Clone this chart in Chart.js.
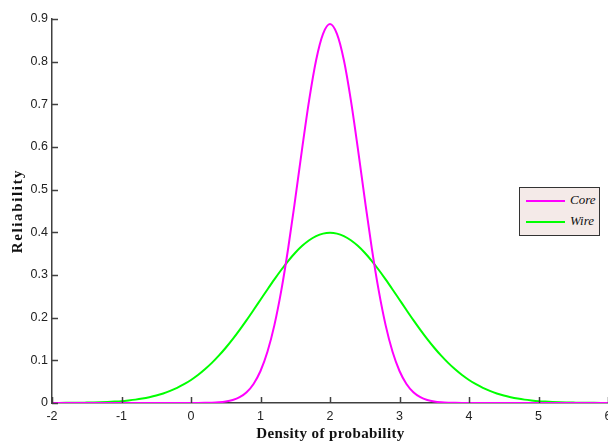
<!DOCTYPE html>
<html>
<head>
<meta charset="utf-8">
<script src="https://cdn.jsdelivr.net/npm/chart.js@4/dist/chart.umd.min.js"></script>
<style>
  html, body { margin: 0; padding: 0; background: #ffffff; overflow: hidden; }
  #wrap { position: relative; width: 608px; height: 442px; }
  #legend { position: absolute; left: 519px; top: 187px; width: 79px; height: 47px;
            background: #f4eae8; border: 1px solid #333; }
  .item { position: absolute; left: 6px; height: 16px; }
  .swatch { position: absolute; left: 0; top: 7px; width: 39px; height: 2px; }
  .lbl { position: absolute; left: 44px; top: -1px; font: italic 13px 'Liberation Serif', serif; color: #111; }
</style>
</head>
<body>
<div id="wrap">
  <canvas id="c" width="608" height="442"></canvas>
  <div id="legend">
    <div class="item" style="top:5px"><div class="swatch" style="background:#ff00ff"></div><div class="lbl">Core</div></div>
    <div class="item" style="top:26px"><div class="swatch" style="background:#00ff00"></div><div class="lbl">Wire</div></div>
  </div>
</div>
<script>
const xValues = [-2,-1.9,-1.8,-1.7,-1.6,-1.5,-1.4,-1.3,-1.2,-1.1,-1,-0.9,-0.8,-0.7,-0.6,-0.5,-0.4,-0.3,-0.2,-0.1,
  0,0.1,0.2,0.3,0.4,0.5,0.6,0.7,0.8,0.9,1,1.1,1.2,1.3,1.4,1.5,1.6,1.7,1.8,1.9,
  2,2.1,2.2,2.3,2.4,2.5,2.6,2.7,2.8,2.9,3,3.1,3.2,3.3,3.4,3.5,3.6,3.7,3.8,3.9,
  4,4.1,4.2,4.3,4.4,4.5,4.6,4.7,4.8,4.9,5,5.1,5.2,5.3,5.4,5.5,5.6,5.7,5.8,5.9,6];

const coreValues = [0,0,0,0,0,0,0,0,0,0,0,0,0,0,0,0,0,0,0,0,
  0,0.0001,0.0003,0.0007,0.0016,0.0034,0.0070,0.0137,0.0253,0.0447,0.0750,0.1200,0.1825,0.2644,0.3644,0.4782,0.5972,0.7098,0.8032,0.8649,
  0.8880,0.8649,0.8032,0.7098,0.5972,0.4782,0.3644,0.2644,0.1825,0.1200,0.0750,0.0447,0.0253,0.0137,0.0070,0.0034,0.0016,0.0007,0.0003,0.0001,
  0,0,0,0,0,0,0,0,0,0,0,0,0,0,0,0,0,0,0,0,0];

const wireValues = [0.0001,0.0002,0.0003,0.0004,0.0006,0.0009,0.0012,0.0017,0.0024,0.0033,0.0044,0.0060,0.0079,0.0104,0.0136,0.0175,0.0224,0.0283,0.0355,0.0440,
  0.0540,0.0656,0.0790,0.0940,0.1109,0.1295,0.1497,0.1714,0.1942,0.2179,0.2420,0.2661,0.2897,0.3123,0.3332,0.3521,0.3683,0.3814,0.3910,0.3970,
  0.3989,0.3970,0.3910,0.3814,0.3683,0.3521,0.3332,0.3123,0.2897,0.2661,0.2420,0.2179,0.1942,0.1714,0.1497,0.1295,0.1109,0.0940,0.0790,0.0656,
  0.0540,0.0440,0.0355,0.0283,0.0224,0.0175,0.0136,0.0104,0.0079,0.0060,0.0044,0.0033,0.0024,0.0017,0.0012,0.0009,0.0006,0.0004,0.0003,0.0002,0.0001];

const seriesNames = ['Core', 'Wire'];
const xTitle = 'Density of probability';
const yTitle = 'Reliability';

const tickFont = { family: "'Liberation Sans', Arial, sans-serif", size: 12.5 };
const titleFontCss = "bold 15px 'Liberation Serif', 'Times New Roman', serif";

const toPoints = vals => xValues.map((x, i) => ({ x: x, y: vals[i] }));

const innerTicks = {
  id: 'innerTicks',
  afterDatasetsDraw(chart) {
    const ctx = chart.ctx;
    const xs = chart.scales.x, ys = chart.scales.y;
    ctx.save();
    ctx.strokeStyle = '#404040';
    ctx.lineWidth = 1.5;
    ctx.beginPath();
    xs.ticks.forEach(t => {
      const px = Math.round(xs.getPixelForValue(t.value)) + 0.5;
      ctx.moveTo(px, ys.bottom);
      ctx.lineTo(px, ys.bottom - 6);
    });
    ys.ticks.forEach(t => {
      const py = Math.round(ys.getPixelForValue(t.value)) + 0.5;
      ctx.moveTo(xs.left, py);
      ctx.lineTo(xs.left + 6, py);
    });
    ctx.stroke();
    ctx.restore();
  }
};

const axisTitles = {
  id: 'axisTitles',
  afterDraw(chart) {
    const ctx = chart.ctx;
    const area = chart.chartArea;
    ctx.save();
    ctx.fillStyle = '#111';
    ctx.font = titleFontCss;
    ctx.textAlign = 'center';
    ctx.textBaseline = 'middle';
    ctx.letterSpacing = '0.4px';
    ctx.fillText(xTitle, (area.left + area.right) / 2 + 0.5, 434);
    ctx.translate(18, (area.top + area.bottom) / 2);
    ctx.rotate(-Math.PI / 2);
    ctx.letterSpacing = '1.6px';
    ctx.fillText(yTitle, 0, 0);
    ctx.restore();
  }
};

new Chart(document.getElementById('c'), {
  type: 'line',
  data: {
    datasets: [
      { label: seriesNames[0], data: toPoints(coreValues), borderColor: '#ff00ff', borderWidth: 2,
        pointRadius: 0, cubicInterpolationMode: 'monotone', fill: false },
      { label: seriesNames[1], data: toPoints(wireValues), borderColor: '#00ff00', borderWidth: 2,
        pointRadius: 0, cubicInterpolationMode: 'monotone', fill: false }
    ]
  },
  plugins: [innerTicks, axisTitles],
  options: {
    responsive: false,
    animation: false,
    layout: { padding: { top: 19, right: 0, left: 0, bottom: 0 } },
    plugins: { legend: { display: false }, tooltip: { enabled: false } },
    scales: {
      x: {
        type: 'linear', min: -2, max: 6,
        ticks: { stepSize: 1, font: tickFont, color: '#222', padding: 6, maxRotation: 0 },
        grid: { drawOnChartArea: false, drawTicks: false },
        border: { display: true, color: '#404040', width: 1.5 },
        title: { display: false },
        afterFit(s) { s.height = 39; s.paddingLeft = 0; s.paddingRight = 0; }
      },
      y: {
        type: 'linear', min: 0, max: 0.9,
        ticks: { stepSize: 0.1, font: tickFont, color: '#222', padding: 4,
                 callback: v => (Math.round(v * 10) / 10).toString() },
        grid: { drawOnChartArea: false, drawTicks: false },
        border: { display: true, color: '#404040', width: 1.5 },
        title: { display: false },
        afterFit(s) { s.width = 52; s.paddingTop = 0; s.paddingBottom = 0; }
      }
    }
  }
});
</script>
</body>
</html>
